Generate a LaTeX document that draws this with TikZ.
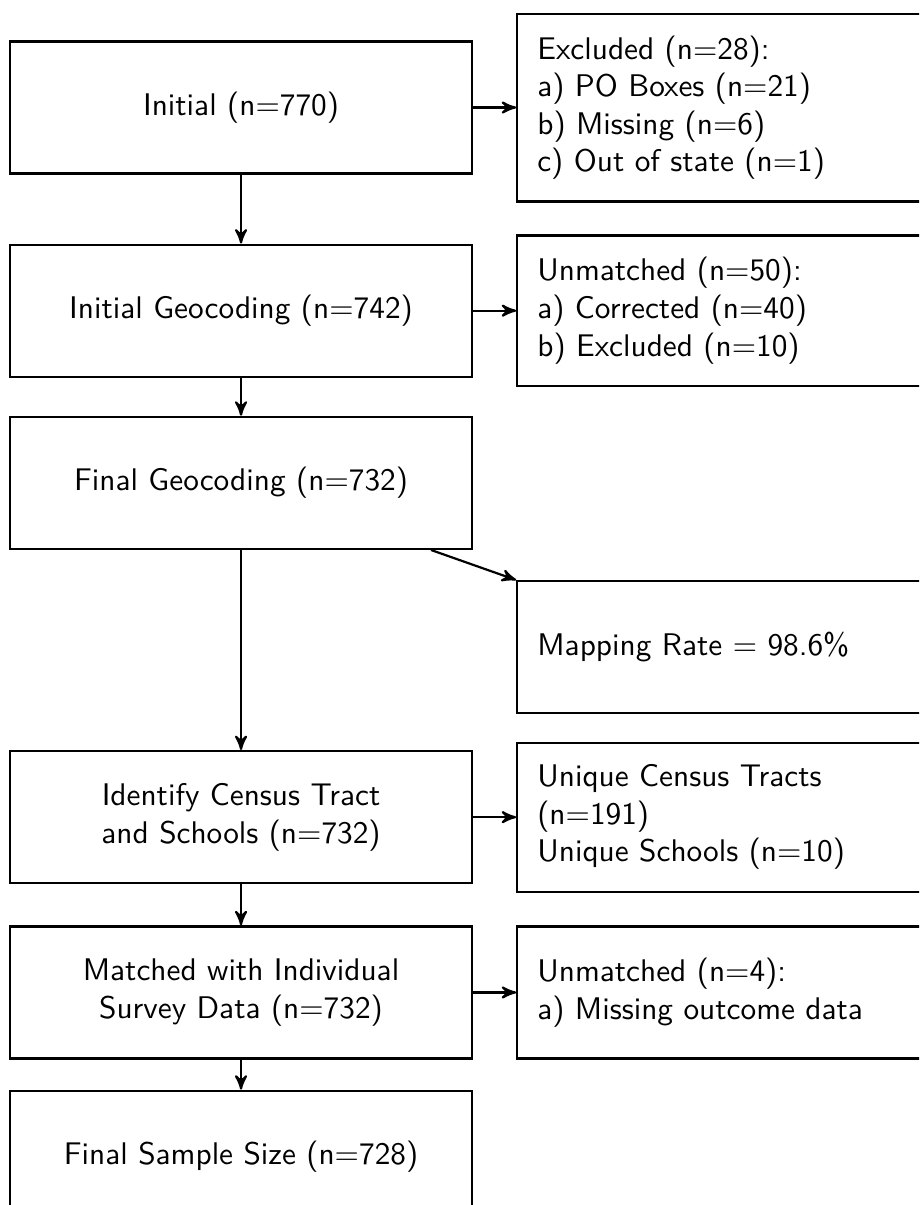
\documentclass[tikz,border=0pt]{standalone}
\usepackage{tikz}
\usetikzlibrary{arrows,positioning}

\begin{document}
\begin{tikzpicture}[>=stealth', line width=0.7pt,
	every node/.style={font=\sffamily},
	stage/.style={draw,minimum width=147.5pt,minimum height=42.2pt,align=center},
	side/.style={draw,text width=128pt,inner xsep=6.4pt,inner ysep=7pt,minimum height=42.2pt,align=left}]
	\clip (-77pt,34.35pt) rectangle (216.6pt,-350.6pt);

	\node[stage] (init) {Initial (n=770)};
	\node[stage] (geo) [below=22pt of init] {Initial Geocoding (n=742)};
	\node[stage] (fgeo) [below=12.1pt of geo] {Final Geocoding (n=732)};
	\node[stage] (tract) [below=63.9pt of fgeo] {Identify Census Tract\\and Schools (n=732)};
	\node[stage] (match) [below=13.1pt of tract] {Matched with Individual\\Survey Data (n=732)};
	\node[stage] (final) [below=9.6pt of match] {Final Sample Size (n=728)};

	\node[side] (excl) [right=13.8pt of init] {Excluded (n=28):\\a) PO Boxes (n=21)\\b) Missing (n=6)\\c) Out of state (n=1)};
	\node[side] (unm) [right=13.8pt of geo] {Unmatched (n=50):\\a) Corrected (n=40)\\b) Excluded (n=10)};
	\node[side] (rate) [below right=9.6pt and 13.8pt of fgeo] {Mapping Rate = 98.6\%};
	\node[side] (uniq) [right=13.8pt of tract] {Unique Census Tracts\\(n=191)\\Unique Schools (n=10)};
	\node[side] (unm2) [right=13.8pt of match] {Unmatched (n=4):\\a) Missing outcome data};

	\path[->]
	(init) edge (geo)
	(init) edge (excl)

	(geo) edge (fgeo)
	(geo) edge (unm)

	(fgeo) edge (tract)
	(fgeo) edge (rate.north west)

	(tract) edge (match)
	(tract) edge (uniq)

	(match) edge (final)
	(match) edge (unm2)
	;
\end{tikzpicture}
\end{document}
